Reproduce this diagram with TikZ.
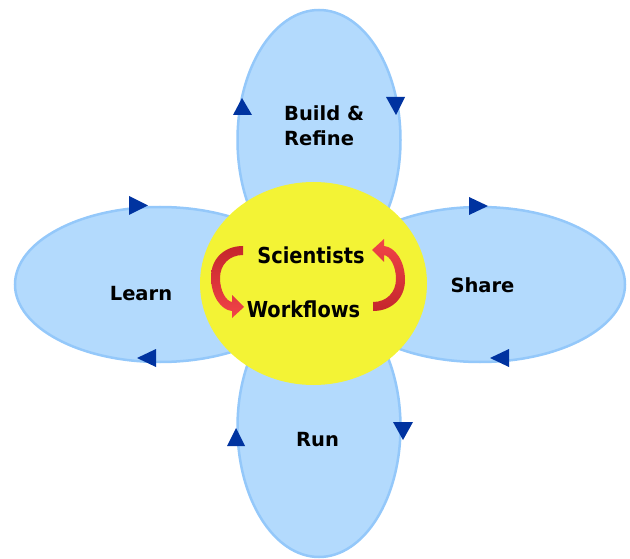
\documentclass[tikz,border=0pt]{standalone}
\usepackage{fontspec}
\usetikzlibrary{shapes.geometric}
\newfontfamily\labelfont{DejaVu Sans}
\newfontfamily\corefont{DejaVu Sans}[FakeStretch=0.88]

\definecolor{petalfill}{HTML}{B3DAFD}
\definecolor{petalline}{HTML}{94C8FA}
\definecolor{coreyellow}{HTML}{F3F335}
\definecolor{tipblue}{HTML}{0033A0}
\definecolor{reddark}{HTML}{C4262C}
\definecolor{redlight}{HTML}{F24448}

\tikzset{
  petal/.style={ellipse, draw=petalline, fill=petalfill, line width=2.5pt, inner sep=0pt},
  core/.style={ellipse, fill=coreyellow, inner sep=0pt, minimum width=227pt, minimum height=203pt},
  petallabel/.style={font=\labelfont\bfseries\fontsize{19.5}{23}\selectfont, text=black, inner sep=0pt, anchor=base},
  corelabel/.style={font=\corefont\bfseries\fontsize{22}{26}\selectfont, text=black, inner sep=0pt, anchor=base},
  turnmark/.style={fill=tipblue},
}

\begin{document}
\begin{tikzpicture}[x=1pt,y=-1pt]
\useasboundingbox (0,0) rectangle (630,559);

% the four petals
\node[petal, minimum width=163pt, minimum height=260pt] (build) at (319,140) {};
\node[petal, minimum width=163pt, minimum height=260pt] (run)   at (319,427) {};
\node[petal, minimum width=290pt, minimum height=155pt] (learn) at (160,284.5) {};
\node[petal, minimum width=290pt, minimum height=155pt] (share) at (480,284.5) {};

% direction marks on the petals
\fill[turnmark] (242,98) -- (252,115) -- (233,115) -- cycle;
\fill[turnmark] (396,115) -- (386,97) -- (405,97) -- cycle;
\fill[turnmark] (148,205.5) -- (129,196) -- (129,215) -- cycle;
\fill[turnmark] (137,358) -- (156,349) -- (156,367) -- cycle;
\fill[turnmark] (488,206) -- (469,197) -- (469,215) -- cycle;
\fill[turnmark] (490,358) -- (509,349) -- (509,367) -- cycle;
\fill[turnmark] (236,428) -- (245,446) -- (227,446) -- cycle;
\fill[turnmark] (403,440) -- (393,422) -- (413,422) -- cycle;

% the centre
\node[core] (hub) at (313.5,283.5) {};

% the two turning arrows
\shade[top color=reddark, bottom color=redlight]
  (243,246) .. controls (224,246) and (211,259) .. (211,277)
  .. controls (211,296) and (221,310) .. (232,311)
  -- (232,318) -- (244,307) -- (232,295) -- (232,302)
  .. controls (226,301) and (220,291) .. (220,278)
  .. controls (220,265) and (229,255) .. (243,255) -- cycle;
\shade[top color=redlight, bottom color=reddark]
  (373,311) .. controls (392,311) and (405,298) .. (405,280)
  .. controls (405,261) and (395,247) .. (384,246)
  -- (384,239) -- (372,250) -- (384,262) -- (384,255)
  .. controls (390,256) and (396,266) .. (396,279)
  .. controls (396,292) and (387,302) .. (373,302) -- cycle;

% labels
\node[petallabel, anchor=base west] (buildtext)  at (284,121) {Build \&};
\node[petallabel, anchor=base west] (refinetext) at (284,146) {Refine};
\node[petallabel] (learntext) at (141,300) {Learn};
\node[petallabel] (sharetext) at (482.5,293) {Share};
\node[petallabel] (runtext)   at (317.5,446) {Run};
\node[corelabel] (scitext)  at (311,263) {Scientists};
\node[corelabel] (flowtext) at (303.5,317) {Workflows};
\end{tikzpicture}
\end{document}
